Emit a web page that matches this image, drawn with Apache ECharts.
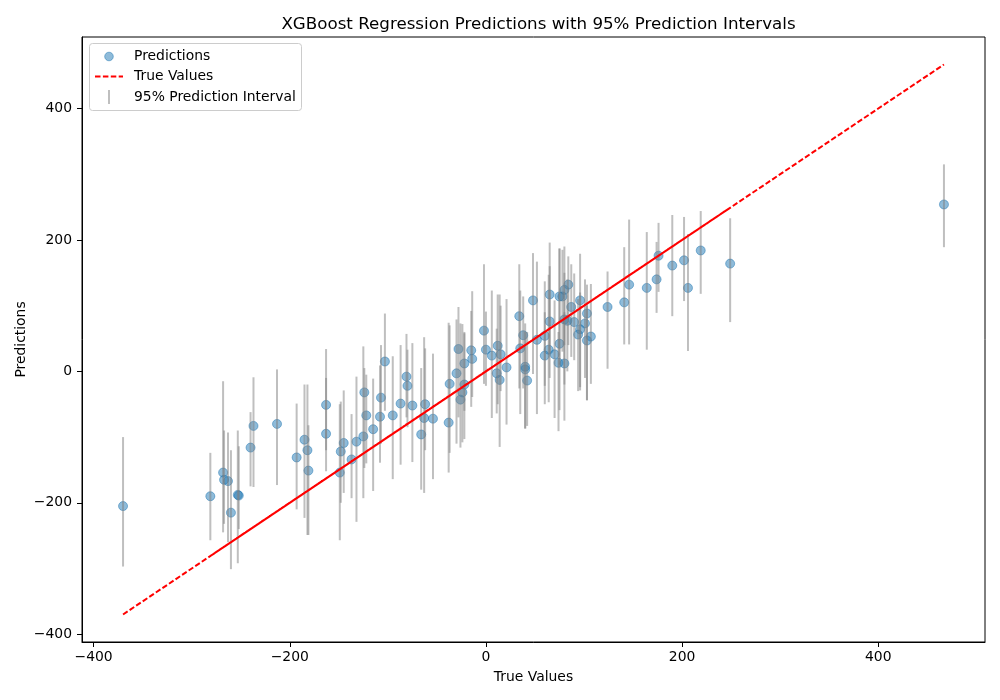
<!DOCTYPE html>
<html>
<head>
<meta charset="utf-8">
<script src="https://cdn.jsdelivr.net/npm/echarts@6/dist/echarts.min.js"></script>
<style>html,body{margin:0;padding:0;background:#fff}#c{width:1000px;height:700px}</style>
</head>
<body>
<div id="c"></div>
<script>
// True values (x) of the test points
const trueVals = [-370,-281,-268,-267,-263,-260,-253,-252,-240,-237,-213,-193,-185,-182,-181,-163,-163,-148,-149,-145,-137,-132,-125,-124,-122,-115,-108,-107,-103,-95,-87,-81,-80,-75,-66,-63,-62,-54,-38,-37,-30,-28,-26,-24,-22,-22,-15,-14,-2,0,6,12,11,14,15,21,34,35,38,40,40,42,48,52,60,60,64,65,65,70,74,75,75,80,78,80,84,87,80,83,90,96,103,101,96,94,103,107,124,141,146,164,174,176,190,202,206,219,249,467];
// Model predictions (y)
const preds = [-205,-190,-154,-165,-167,-215,-188,-189,-116,-83,-80,-131,-104,-120,-151,-51,-95,-122,-154,-109,-134,-107,-99,-32,-67,-88,-69,-40,15,-67,-49,-8,-22,-52,-96,-71,-50,-72,-78,-19,-3,34,-43,-32,-20,12,32,19,62,33,24,39,-3,-13,26,6,84,35,55,7,3,-14,108,48,54,24,33,117,76,26,13,42,114,12,114,124,132,98,79,77,75,108,88,73,64,56,47,53,98,105,132,127,140,176,161,169,127,184,164,254];
// 95% prediction interval bounds
const lowerPI = [-297,-257,-245,-232,-260,-301,-292,-240,-175,-176,-173,-210,-223,-249,-249,-120,-152,-200,-257,-185,-193,-229,-193,-147,-140,-182,-139,-110,-60,-164,-142,-70,-85,-138,-180,-185,-120,-164,-154,-124,-110,-70,-116,-108,-103,-60,-54,-39,-19,-22,-71,-50,-64,-115,-30,-81,-26,-65,-26,-87,-87,-83,-4,-65,-22,-50,-47,27,-10,-71,-91,-59,10,-75,30,40,40,22,-20,0,17,-29,-44,-10,-24,-30,-44,-19,4,41,41,33,89,121,84,107,31,118,75,189];
const upperPI = [-100,-124,-15,-90,-93,-120,-90,-114,-62,-9,3,-49,-20,-20,-82,34,-10,-46,-50,-29,-65,-8,38,5,-5,-11,9,40,88,23,40,57,33,43,5,52,35,27,74,70,79,98,73,72,58,60,92,122,163,91,123,117,65,117,100,110,163,123,114,73,60,60,180,167,137,90,147,196,160,108,60,187,187,90,185,190,175,163,150,140,149,179,132,140,120,110,100,133,152,189,231,212,197,226,238,235,209,244,233,315];
const xTicks = [-400,-200,0,200,400];
const yTicks = [-400,-200,0,200,400];

const FONT = 'DejaVu Sans';
const FS = 13.9;
const ext = [Math.min(...trueVals), Math.max(...trueVals)];
const span = ext[1] - ext[0];
const axMin = ext[0] - 0.05 * span, axMax = ext[1] + 0.05 * span;
const fmt = v => (xTicks.indexOf(Math.round(v)) >= 0 && Math.abs(v - Math.round(v)) < 1e-6) ? String(Math.round(v)).replace('-', '\u2212') : '';

const scatterData = trueVals.map((t, i) => [t, preds[i]]);
const barData = trueVals.map((t, i) => [t, lowerPI[i], upperPI[i]]);
// identity line y = x visited in the (unsorted) test order, interleaving the two halves
const half = Math.floor(trueVals.length / 2);
const lineData = [];
for (let k = 0; k < half; k++) {
  lineData.push([trueVals[k], trueVals[k]]);
  lineData.push([trueVals[k + half], trueVals[k + half]]);
}

const axisCommon = {
  type: 'value', min: axMin, max: axMax, splitNumber: 5,
  axisLine: {show: true, onZero: false, lineStyle: {color: '#000', width: 1}},
  axisTick: {show: true, inside: false, length: 5, lineStyle: {color: '#000', width: 1}},
  splitLine: {show: false},
  axisLabel: {color: '#000', fontFamily: FONT, fontSize: FS, formatter: fmt, showMinLabel: false, showMaxLabel: false},
  nameLocation: 'middle',
  nameTextStyle: {color: '#000', fontFamily: FONT, fontSize: FS}
};

const chart = echarts.init(document.getElementById('c'), null, {renderer: 'canvas'});
chart.setOption({
  animation: false,
  backgroundColor: '#fff',
  title: {
    text: 'XGBoost Regression Predictions with 95% Prediction Intervals',
    left: 533.5, top: 11, textAlign: 'center',
    textStyle: {fontFamily: FONT, fontSize: 16.7, fontWeight: 'normal', color: '#000'}
  },
  grid: {left: 82, right: 15, top: 37, bottom: 58, show: true, borderColor: '#000', borderWidth: 1, backgroundColor: 'transparent'},
  xAxis: Object.assign({}, axisCommon, {name: 'True Values', nameGap: 28, axisLabel: Object.assign({}, axisCommon.axisLabel, {margin: 8})}),
  yAxis: Object.assign({}, axisCommon, {name: 'Predictions', nameGap: 54, nameMoveOverlap: false, axisLabel: Object.assign({}, axisCommon.axisLabel, {margin: 10})}),
  series: [
    {
      name: 'Predictions', type: 'scatter', data: scatterData, symbolSize: 9, z: 2,
      itemStyle: {color: 'rgba(31,119,180,0.5)', borderColor: 'rgba(31,119,180,0.5)', borderWidth: 1, opacity: 1}
    },
    {
      name: '95% Prediction Interval', type: 'custom', data: barData, z: 3,
      encode: {x: 0, y: [1, 2]},
      renderItem: function (params, api) {
        const p1 = api.coord([api.value(0), api.value(1)]);
        const p2 = api.coord([api.value(0), api.value(2)]);
        return {type: 'line', shape: {x1: p1[0], y1: p1[1], x2: p2[0], y2: p2[1]},
          style: {stroke: 'rgba(128,128,128,0.5)', lineWidth: 2}};
      }
    },
    {
      name: 'True Values', type: 'line', data: lineData, symbol: 'none', z: 4,
      lineStyle: {color: '#ff0000', width: 2, type: [5.5, 2.4]}
    }
  ],
  graphic: [
    {type: 'rect', left: 89, top: 43, shape: {width: 212, height: 67, r: 3}, style: {fill: 'rgba(255,255,255,0.8)', stroke: '#cccccc', lineWidth: 1}, z: 100},
    {type: 'circle', shape: {cx: 109, cy: 56.5, r: 4.3}, style: {fill: 'rgba(31,119,180,0.5)', stroke: 'rgba(31,119,180,0.5)', lineWidth: 1}, z: 101},
    {type: 'text', left: 134, top: 49, style: {text: 'Predictions', fontFamily: FONT, fontSize: FS, fill: '#000'}, z: 101},
    {type: 'line', shape: {x1: 95, y1: 76.5, x2: 123, y2: 76.5}, style: {stroke: '#ff0000', lineWidth: 2, lineDash: [5.5, 2.4]}, z: 101},
    {type: 'text', left: 134, top: 69.5, style: {text: 'True Values', fontFamily: FONT, fontSize: FS, fill: '#000'}, z: 101},
    {type: 'line', shape: {x1: 109, y1: 90, x2: 109, y2: 104}, style: {stroke: 'rgba(128,128,128,0.5)', lineWidth: 2}, z: 101},
    {type: 'text', left: 134, top: 90, style: {text: '95% Prediction Interval', fontFamily: FONT, fontSize: FS, fill: '#000'}, z: 101}
  ]
});
</script>
</body>
</html>
